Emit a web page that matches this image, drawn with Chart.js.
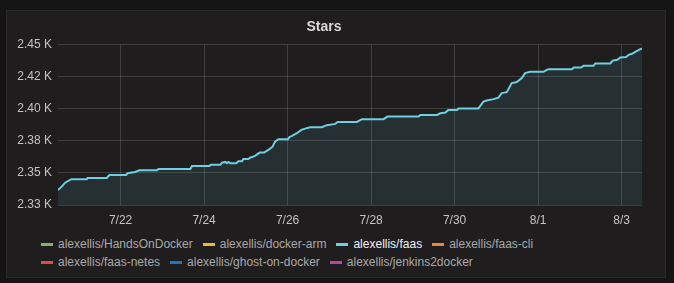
<!DOCTYPE html>
<html>
<head>
<meta charset="utf-8">
<title>Stars</title>
<script src="https://cdn.jsdelivr.net/npm/chart.js@4.4.1/dist/chart.umd.min.js"></script>
<style>
  html, body {
    margin: 0;
    padding: 0;
    background: #141414;
    width: 674px;
    height: 283px;
    overflow: hidden;
    font-family: "Liberation Sans", Arial, sans-serif;
  }
  .panel {
    position: absolute;
    left: 6px;
    top: 10px;
    width: 660px;
    height: 268px;
    box-sizing: border-box;
    background: #1f1d1e;
    border: 1px solid #2a2a2a;
  }
  #chart-box {
    position: absolute;
    left: 6px;
    top: 10px;
    width: 660px;
    height: 222px;
  }
  #legend {
    position: absolute;
    left: 41px;
    top: 235px;
    width: 560px;
    display: flex;
    flex-wrap: wrap;
  }
  .legend-item {
    display: flex;
    align-items: center;
    height: 18px;
    margin-right: 10px;
    font-size: 12px;
    color: #a9a9a9;
    white-space: nowrap;
  }
  .legend-item.active {
    color: #f2f2f2;
  }
  .legend-swatch {
    display: inline-block;
    width: 12px;
    height: 3px;
    margin-right: 5px;
  }
</style>
</head>
<body>
<div class="panel"></div>
<div id="chart-box"><canvas id="stars-chart" width="660" height="222"></canvas></div>
<div id="legend"></div>

<script>
// Series shown in the legend (only alexellis/faas has data in this range)
const seriesNames = [
  "alexellis/HandsOnDocker",
  "alexellis/docker-arm",
  "alexellis/faas",
  "alexellis/faas-cli",
  "alexellis/faas-netes",
  "alexellis/ghost-on-docker",
  "alexellis/jenkins2docker",
];
const seriesColors = [
  "#7eb26d",
  "#eab839",
  "#6ed0e0",
  "#ef843c",
  "#e24d42",
  "#1f78c1",
  "#ba43a9",
];

// alexellis/faas stars: day of July (32 = Aug 1) and star count
const faasDays = [
  20.5, 20.59, 20.67, 20.82, 21.19, 21.21, 21.67, 21.73, 22.13, 22.17,
  22.35, 22.45, 22.87, 22.91, 23.67, 23.71, 24.13, 24.16, 24.39, 24.43,
  24.51, 24.55, 24.58, 24.63, 24.77, 24.82, 24.91, 24.94, 25.06, 25.1,
  25.22, 25.33, 25.44, 25.49, 25.54, 25.64, 25.7, 25.78, 26.01, 26.04,
  26.14, 26.22, 26.33, 26.42, 26.54, 26.82, 26.94, 27.14, 27.2, 27.66,
  27.78, 28.3, 28.39, 29.14, 29.18, 29.58, 29.66, 29.78, 29.85, 30.06,
  30.09, 30.57, 30.69, 30.77, 30.93, 31.05, 31.13, 31.25, 31.37, 31.49,
  31.61, 31.69, 31.81, 32.13, 32.21, 32.25, 32.81, 32.86, 33.03, 33.09,
  33.33, 33.37, 33.73, 33.79, 33.9, 33.97, 34.11, 34.17, 34.25, 34.33,
  34.45, 34.49,
];
const faasStars = [
  2336.7, 2339.3, 2342.4, 2345.1, 2345.1, 2346.1, 2346.1, 2348.4, 2348.4, 2349.8,
  2350.8, 2352.1, 2352.1, 2353.1, 2353.1, 2355.5, 2355.5, 2356.5, 2356.5, 2358.0,
  2358.6, 2357.6, 2358.6, 2357.6, 2357.6, 2359.1, 2359.1, 2360.9, 2360.9, 2361.9,
  2363.3, 2365.9, 2365.9, 2367.0, 2368.0, 2370.5, 2374.5, 2376.3, 2376.3, 2377.9,
  2379.5, 2381.0, 2383.6, 2384.6, 2385.7, 2385.7, 2387.3, 2388.3, 2389.8, 2389.8,
  2392.0, 2392.0, 2394.0, 2394.0, 2395.3, 2395.3, 2396.6, 2397.1, 2399.2, 2399.2,
  2400.2, 2400.2, 2405.7, 2406.5, 2407.6, 2408.8, 2412.3, 2413.0, 2420.1, 2420.9,
  2424.0, 2427.9, 2428.9, 2428.9, 2430.5, 2431.0, 2431.0, 2432.3, 2432.3, 2433.6,
  2433.6, 2435.4, 2435.4, 2437.7, 2438.3, 2440.1, 2440.4, 2442.2, 2443.0, 2444.5,
  2446.6, 2447.1,
];

// Axis ticks
const xTickValues = [22, 24, 26, 28, 30, 32, 34];
const xTickLabels = ["7/22", "7/24", "7/26", "7/28", "7/30", "8/1", "8/3"];
const yTickValues = [2325, 2350, 2375, 2400, 2425, 2450];
const yTickLabels = ["2.33 K", "2.35 K", "2.38 K", "2.40 K", "2.42 K", "2.45 K"];

const gridColor = "rgba(200, 200, 200, 0.2)";
const tickColor = "#c4c4c4";

Chart.defaults.font.family = '"Liberation Sans", Arial, sans-serif';

// Build one dataset per repo, only faas has points
function buildDatasets() {
  return seriesNames.map(function (name, i) {
    let points = [];
    if (name === "alexellis/faas") {
      points = faasDays.map(function (d, j) {
        return { x: d, y: faasStars[j] };
      });
    }
    return {
      label: name,
      data: points,
      borderColor: seriesColors[i],
      backgroundColor: "rgba(110, 208, 224, 0.1)",
      borderWidth: 2,
      pointRadius: 0,
      tension: 0,
      fill: points.length ? "start" : false,
    };
  });
}

function buildLegend(chart) {
  const legend = document.getElementById("legend");
  let html = "";
  chart.data.datasets.forEach(function (ds) {
    const active = ds.data.length ? " active" : "";
    html += `
      <div class="legend-item${active}">
        <span class="legend-swatch" style="background:${ds.borderColor}"></span>
        <span>${ds.label}</span>
      </div>`;
  });
  legend.innerHTML = html;
}

const ctx = document.getElementById("stars-chart").getContext("2d");

const starsChart = new Chart(ctx, {
  type: "line",
  data: { datasets: buildDatasets() },
  options: {
    responsive: false,
    animation: false,
    layout: { padding: { left: 0, right: 24, top: 0, bottom: 0 } },
    plugins: {
      legend: { display: false },
      tooltip: { enabled: false },
      title: {
        display: true,
        text: "Stars",
        color: "#d8d9da",
        font: { size: 14, weight: "bold" },
        padding: { top: 9, bottom: 9 },
      },
    },
    scales: {
      x: {
        type: "linear",
        min: 20.5,
        max: 34.49,
        border: { display: false },
        grid: { color: gridColor, drawTicks: false },
        afterBuildTicks: function (scale) {
          scale.ticks = xTickValues.map(function (v) {
            return { value: v };
          });
        },
        afterFit: function (scale) {
          scale.height = 27;
        },
        ticks: {
          color: tickColor,
          font: { size: 12 },
          padding: 8,
          maxRotation: 0,
          callback: function (value, index) {
            return xTickLabels[index];
          },
        },
      },
      y: {
        min: 2325,
        max: 2450,
        border: { display: false },
        grid: { color: gridColor, drawTicks: false },
        afterBuildTicks: function (scale) {
          scale.ticks = yTickValues.map(function (v) {
            return { value: v };
          });
        },
        afterFit: function (scale) {
          scale.width = 52;
        },
        ticks: {
          color: tickColor,
          font: { size: 12 },
          padding: 6,
          callback: function (value, index) {
            return yTickLabels[index];
          },
        },
      },
    },
  },
});

buildLegend(starsChart);
</script>
</body>
</html>
